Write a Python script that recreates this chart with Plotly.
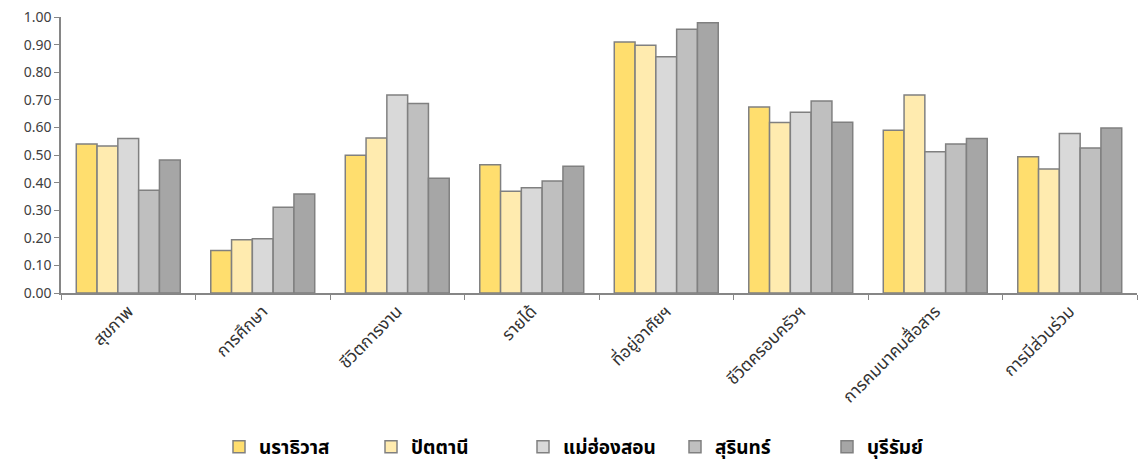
import plotly.graph_objects as go

categories = ["สุขภาพ", "การศึกษา", "ชีวิตการงาน", "รายได้", "ที่อยู่อาศัยฯ",
              "ชีวิตครอบครัวฯ", "การคมนาคมสื่อสาร", "การมีส่วนร่วม"]
series_names = ["นราธิวาส", "ปัตตานี", "แม่ฮ่องสอน", "สุรินทร์", "บุรีรัมย์"]
narathiwat = [0.54, 0.154, 0.499, 0.465, 0.909, 0.674, 0.590, 0.494]
pattani = [0.533, 0.193, 0.562, 0.369, 0.898, 0.618, 0.717, 0.449]
maehongson = [0.560, 0.197, 0.717, 0.381, 0.856, 0.655, 0.512, 0.578]
surin = [0.372, 0.311, 0.687, 0.406, 0.956, 0.696, 0.540, 0.525]
buriram = [0.482, 0.359, 0.416, 0.459, 0.979, 0.619, 0.560, 0.598]
values = [narathiwat, pattani, maehongson, surin, buriram]
colors = ["#FFDE6E", "#FFEBAF", "#D9D9D9", "#BFBFBF", "#A6A6A6"]

font_family = "Noto Sans Thai, Tahoma, Leelawadee UI, Noto Sans, DejaVu Sans, sans-serif"

fig = go.Figure()
for name, vals, col in zip(series_names, values, colors):
    fig.add_trace(go.Bar(
        x=categories, y=vals, name=name,
        marker=dict(color=col, line=dict(color="#808080", width=1.5)),
    ))

fig.update_layout(
    width=1144, height=464,
    barmode="group", bargap=0.227, bargroupgap=0,
    plot_bgcolor="white", paper_bgcolor="white",
    margin=dict(l=61, r=7, t=17, b=171, autoexpand=False),
    font=dict(family=font_family, color="#404040"),
    showlegend=True,
    legend=dict(orientation="h", x=0.5, xanchor="center",
                yref="container", y=0.037, yanchor="middle",
                font=dict(size=19, color="#000000", weight="bold"),
                traceorder="normal", itemwidth=30,
                entrywidth=107, entrywidthmode="pixels"),
)
fig.update_xaxes(
    type="category", tickson="boundaries", ticks="outside", ticklen=5,
    tickcolor="#868686", showline=True, linecolor="#868686", linewidth=1.5,
    tickangle=-45, tickfont=dict(size=17, color="#333333"), showgrid=False,
    automargin=False,
)
fig.update_yaxes(
    range=[0, 1.0], dtick=0.1, tickformat=".2f", ticks="outside", ticklen=5,
    tickcolor="#868686", showline=True, linecolor="#868686", linewidth=1.5,
    tickfont=dict(size=14, color="#404040"), showgrid=False, zeroline=False,
    automargin=False,
)

fig.write_html("out.html", config={"displayModeBar": False},
               post_script="document.body.style.margin='0px';document.body.style.overflow='hidden';")
